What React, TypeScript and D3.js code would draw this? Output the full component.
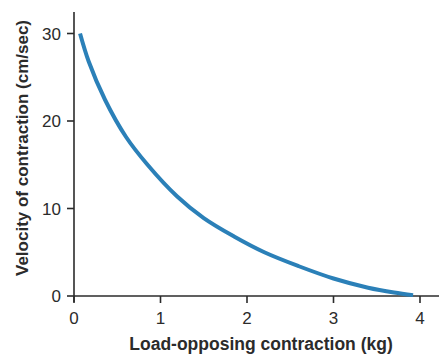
import * as d3 from "d3"

// load (kg) vs velocity (cm/sec)
const loadKg = [0.07, 0.17, 0.36, 0.6, 0.85, 1.19, 1.5, 1.85, 2.2, 2.6, 3.0, 3.4, 3.7, 3.92]
const velocity = [30, 26.8, 22.4, 18.2, 15.0, 11.4, 8.9, 6.8, 5.0, 3.4, 2.0, 0.95, 0.4, 0.1]
const xTicks = [0, 1, 2, 3, 4]
const yTicks = [0, 10, 20, 30]

const W = 439
const H = 356
const LINE = "#2b80b8"
const INK = "#2b2b2b"
const FONT = "'Liberation Sans', Arial, Helvetica, sans-serif"

export default function App() {
  const x = d3.scaleLinear().domain([0, 4]).range([74, 420])
  const y = d3.scaleLinear().domain([0, 30]).range([296, 33.5])

  const pts = loadKg.map((k, i) => [k, velocity[i]] as [number, number])
  const path = d3
    .line<[number, number]>()
    .x((d) => x(d[0]))
    .y((d) => y(d[1]))
    .curve(d3.curveCatmullRom.alpha(0.5))(pts)

  return (
    <svg
      width={W}
      height={H}
      style={{ position: "absolute", left: 0, top: 0, background: "white" }}
      fontFamily={FONT}
    >
      {/* axes */}
      <line x1={x(0)} x2={x(0)} y1={12} y2={y(0) + 6} stroke={INK} strokeWidth={1.6} />
      <line x1={x(0)} x2={W} y1={y(0)} y2={y(0)} stroke={INK} strokeWidth={1.6} />

      {yTicks.map((t) => (
        <g key={"y" + t}>
          <line x1={x(0) - 7} x2={x(0)} y1={y(t)} y2={y(t)} stroke={INK} strokeWidth={1.6} />
          <text x={x(0) - 13} y={y(t)} dy="0.36em" textAnchor="end" fontSize={17} fill={INK}>
            {t}
          </text>
        </g>
      ))}

      {xTicks.map((t) => (
        <g key={"x" + t}>
          <line x1={x(t)} x2={x(t)} y1={y(0)} y2={y(0) + 7} stroke={INK} strokeWidth={1.6} />
          <text x={x(t)} y={y(0) + 28} textAnchor="middle" fontSize={17} fill={INK}>
            {t}
          </text>
        </g>
      ))}

      <path d={path ?? ""} fill="none" stroke={LINE} strokeWidth={4} strokeLinecap="butt" />

      <text x={261} y={350} textAnchor="middle" fontSize={17.5} fontWeight="bold" fill={INK}>
        Load-opposing contraction (kg)
      </text>
      <text
        transform={`translate(28,148) rotate(-90)`}
        textAnchor="middle"
        fontSize={17}
        fontWeight="bold"
        fill={INK}
      >
        Velocity of contraction (cm/sec)
      </text>
    </svg>
  )
}
